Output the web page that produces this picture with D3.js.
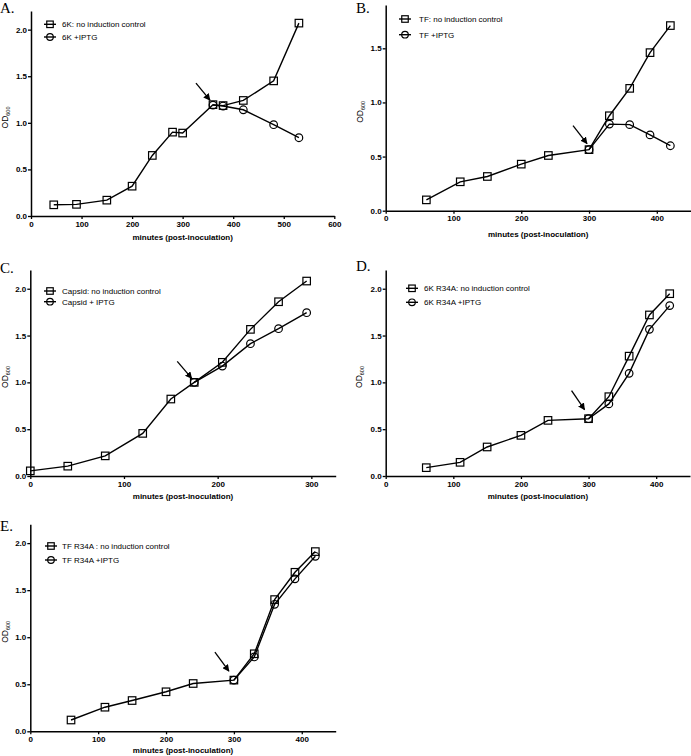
<!DOCTYPE html>
<html><head><meta charset="utf-8">
<script src="https://cdn.jsdelivr.net/npm/d3@7"></script>
<style>
body{margin:0;background:#fff;}
svg{display:block;}
</style></head>
<body>
<svg id="chart" width="691" height="756" font-family="'Liberation Sans',Arial,sans-serif"></svg>
<script>
// ---------- data ----------
const panelLetters = ["A.", "B.", "C.", "D.", "E."];
const xTickValuesA = [0,100,200,300,400,500,600];
const xTickValuesB = [0,100,200,300,400];
const xTickValuesC = [0,100,200,300];
const yTickValues = [0,0.5,1.0,1.5,2.0];
const yTickValuesB = [0,0.5,1.0,1.5];
const xTitle = "minutes (post-inoculation)";

const A_time = [45,90,150,200,240,280,300,360,380,420,480,530];
const A_ctrl = [0.12,0.125,0.17,0.32,0.65,0.90,0.89,1.195,1.185,1.24,1.45,2.07];
const A_iptgTime = [360,380,420,480,530];
const A_iptg = [1.19,1.18,1.14,0.98,0.84];
const A_legend = ["6K: no induction control","6K +IPTG"];

const B_time = [60,110,150,200,240,300,330,360,390,420];
const B_ctrl = [0.10,0.267,0.316,0.43,0.51,0.564,0.877,1.13,1.46,1.71];
const B_iptgTime = [300,330,360,390,420];
const B_iptg = [0.564,0.80,0.795,0.70,0.60];
const B_legend = ["TF: no induction control","TF +IPTG"];

const C_time = [0,40,80,120,150,175,205,235,265,295];
const C_ctrl = [0.055,0.105,0.215,0.455,0.822,1.0,1.214,1.566,1.861,2.082];
const C_iptgTime = [175,205,235,265,295];
const C_iptg = [1.0,1.174,1.413,1.573,1.744];
const C_legend = ["Capsid: no induction control","Capsid + IPTG"];

const D_time = [60,110,150,200,240,300,330,360,390,420];
const D_ctrl = [0.089,0.146,0.31,0.434,0.594,0.612,0.847,1.28,1.72,1.947];
const D_iptgTime = [300,330,360,390,420];
const D_iptg = [0.612,0.77,1.096,1.566,1.82];
const D_legend = ["6K R34A: no induction control","6K R34A +IPTG"];

const E_time = [60,110,150,200,240,300,330,360,390,420];
const E_ctrl = [0.12,0.256,0.327,0.42,0.508,0.544,0.824,1.40,1.69,1.91];
const E_iptgTime = [300,330,360,390,420];
const E_iptg = [0.544,0.79,1.35,1.62,1.86];
const E_legend = ["TF R34A : no induction control","TF R34A +IPTG"];

// induction point (arrow target) per panel, data units
const arrowTargets = [[360,1.19],[300,0.564],[175,1.0],[300,0.612],[300,0.544]];

// ---------- layout ----------
const panels = [
  {letter:panelLetters[0], xDom:[0,600], yDom:[0,2.2], xt:xTickValuesA, yt:yTickValues,
   L:31, R:334.3, T:11, B:216, time:A_time, ctrl:A_ctrl, it:A_iptgTime, iv:A_iptg, leg:A_legend,
   letterXY:[0,13], ytX:8, xtY:240, legX:50, legTX:62, legY:[24.3,37],
   tip:[-3,-5], tail:[-17,-22], arrow:arrowTargets[0]},
  {letter:panelLetters[1], xDom:[0,450], yDom:[0,1.9], xt:xTickValuesB, yt:yTickValuesB,
   L:385.7, R:690.7, T:5, B:210.7, time:B_time, ctrl:B_ctrl, it:B_iptgTime, iv:B_iptg, leg:B_legend,
   letterXY:[356,13], ytX:363, xtY:237, legX:405, legTX:419, legY:[19,34.7],
   tip:[-2,-6], tail:[-16,-24], arrow:arrowTargets[1]},
  {letter:panelLetters[2], xDom:[0,326], yDom:[0,2.2], xt:xTickValuesC, yt:yTickValues,
   L:30.3, R:335.7, T:270, B:476, time:C_time, ctrl:C_ctrl, it:C_iptgTime, iv:C_iptg, leg:C_legend,
   letterXY:[0,273], ytX:8, xtY:499, legX:50, legTX:62, legY:[291,301.7],
   tip:[-2.5,-4], tail:[-17,-21], arrow:arrowTargets[2]},
  {letter:panelLetters[3], xDom:[0,450], yDom:[0,2.2], xt:xTickValuesB, yt:yTickValues,
   L:385.7, R:690, T:270, B:476, time:D_time, ctrl:D_ctrl, it:D_iptgTime, iv:D_iptg, leg:D_legend,
   letterXY:[356,271], ytX:362, xtY:499, legX:412, legTX:424, legY:[288.3,302.3],
   tip:[-4,-9], tail:[-17,-28], arrow:arrowTargets[3]},
  {letter:panelLetters[4], xDom:[0,450], yDom:[0,2.2], xt:xTickValuesB, yt:yTickValues,
   L:30.3, R:335.7, T:524.3, B:731.3, time:E_time, ctrl:E_ctrl, it:E_iptgTime, iv:E_iptg, leg:E_legend,
   letterXY:[0,531], ytX:8, xtY:753, legX:51, legTX:62, legY:[546,560],
   tip:[-5,-9], tail:[-19,-28], arrow:arrowTargets[4]}
];

const svg = d3.select("#chart");
const defs = svg.append("defs");
defs.append("marker").attr("id","ah").attr("viewBox","0 0 10 10")
  .attr("refX",9).attr("refY",5).attr("markerWidth",7).attr("markerHeight",7)
  .attr("markerUnits","userSpaceOnUse").attr("orient","auto")
  .append("path").attr("d","M0,0L10,5L0,10Z").attr("fill","#000");

const SQ = 7.5, CR = 3.8;
const fmt = d3.format(".1f");
const SANS = "'Liberation Sans',Arial,sans-serif";
const SERIF = "'Liberation Serif','Times New Roman',serif";

function drawSquare(g, x, y, s){
  g.append("rect").attr("x",x-s/2).attr("y",y-s/2).attr("width",s).attr("height",s)
   .attr("fill","none").attr("stroke","#000").attr("stroke-width",1.2);
}
function drawCircle(g, x, y, r){
  g.append("circle").attr("cx",x).attr("cy",y).attr("r",r)
   .attr("fill","none").attr("stroke","#000").attr("stroke-width",1.2);
}

panels.forEach(p => {
  const g = svg.append("g");
  const x = d3.scaleLinear().domain(p.xDom).range([p.L,p.R]);
  const y = d3.scaleLinear().domain(p.yDom).range([p.B,p.T]);

  const xa = g.append("g").attr("transform",`translate(0,${p.B})`)
    .call(d3.axisBottom(x).tickValues(p.xt).tickSize(3).tickPadding(2).tickSizeOuter(0).tickFormat(d3.format("d")));
  const ya = g.append("g").attr("transform",`translate(${p.L},0)`)
    .call(d3.axisLeft(y).tickValues(p.yt).tickSize(3).tickPadding(1).tickSizeOuter(0).tickFormat(fmt));
  [xa,ya].forEach(a=>{
    a.attr("font-family",SANS).attr("font-size",8);
    a.select(".domain").attr("stroke","#000").attr("stroke-width",1.5);
    a.selectAll(".tick line").attr("stroke","#000").attr("stroke-width",1.3);
    a.selectAll(".tick text").attr("fill","#000").attr("font-weight","bold");
  });

  // titles
  g.append("text").attr("x",(p.L+p.R)/2).attr("y",p.xtY).attr("text-anchor","middle")
    .attr("font-family",SANS).attr("font-size",8).attr("font-weight","bold").text(xTitle);
  const yt = g.append("text").attr("transform",`translate(${p.ytX},${(p.T+p.B)/2+4}) rotate(-90)`)
    .attr("text-anchor","middle").attr("font-family",SANS).attr("font-size",8.5);
  yt.append("tspan").text("OD");
  yt.append("tspan").attr("font-size",5.5).attr("dy","2").text("600");

  g.append("text").attr("x",p.letterXY[0]).attr("y",p.letterXY[1])
    .style("font-family",SERIF).style("font-size","15px").text(p.letter);

  // lines
  const line = d3.line().x(d=>x(d[0])).y(d=>y(d[1]));
  const ctrlPts = p.time.map((t,i)=>[t,p.ctrl[i]]);
  const iptgPts = p.it.map((t,i)=>[t,p.iv[i]]);
  g.append("path").datum(iptgPts).attr("d",line).attr("fill","none").attr("stroke","#000").attr("stroke-width",1.4);
  g.append("path").datum(ctrlPts).attr("d",line).attr("fill","none").attr("stroke","#000").attr("stroke-width",1.4);
  ctrlPts.forEach(d=>drawSquare(g,x(d[0]),y(d[1]),SQ));
  iptgPts.forEach(d=>drawCircle(g,x(d[0]),y(d[1]),CR));

  // arrow
  const ax = x(p.arrow[0]), ay = y(p.arrow[1]);
  g.append("line").attr("x1",ax+p.tail[0]).attr("y1",ay+p.tail[1])
    .attr("x2",ax+p.tip[0]).attr("y2",ay+p.tip[1])
    .attr("stroke","#000").attr("stroke-width",1.3).attr("marker-end","url(#ah)");

  // legend
  p.leg.forEach((lab,i)=>{
    const ly = p.legY[i];
    g.append("line").attr("x1",p.legX-6).attr("x2",p.legX+6).attr("y1",ly).attr("y2",ly)
      .attr("stroke","#000").attr("stroke-width",1.4);
    if(i===0) drawSquare(g,p.legX,ly,6.5); else drawCircle(g,p.legX,ly,3.3);
    g.append("text").attr("x",p.legTX).attr("y",ly+3).attr("font-family",SANS).attr("font-size",8).attr("fill","#000").text(lab);
  });
});
</script>
</body></html>
